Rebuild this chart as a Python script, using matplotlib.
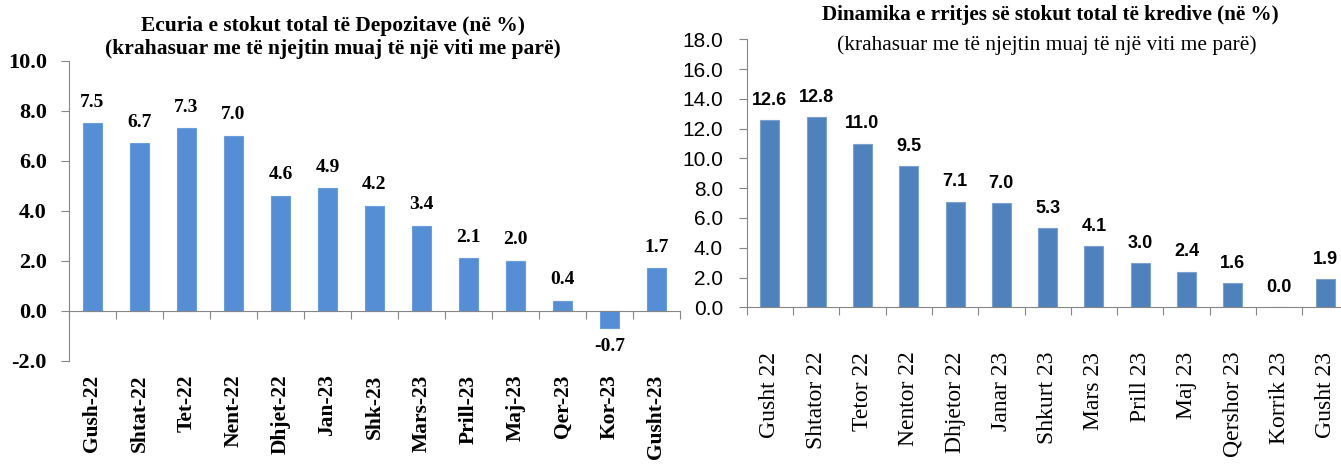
import matplotlib.pyplot as plt
import matplotlib.transforms as mtransforms

# deposit stock growth, y/y %
dep_months = ['Gush-22', 'Shtat-22', 'Tet-22', 'Nent-22', 'Dhjet-22', 'Jan-23', 'Shk-23',
              'Mars-23', 'Prill-23', 'Maj-23', 'Qer-23', 'Kor-23', 'Gusht-23']
dep_values = [7.5, 6.7, 7.3, 7.0, 4.6, 4.9, 4.2, 3.4, 2.1, 2.0, 0.4, -0.7, 1.7]
dep_yticks = [-2, 0, 2, 4, 6, 8, 10]

# credit stock growth, y/y %
cred_months = ['Gusht 22', 'Shtator 22', 'Tetor 22', 'Nentor 22', 'Dhjetor 22', 'Janar 23',
               'Shkurt 23', 'Mars 23', 'Prill 23', 'Maj 23', 'Qershor 23', 'Korrik 23', 'Gusht 23']
cred_values = [12.6, 12.8, 11.0, 9.5, 7.1, 7.0, 5.3, 4.1, 3.0, 2.4, 1.6, 0.0, 1.9]
cred_yticks = [0, 2, 4, 6, 8, 10, 12, 14, 16, 18]

W, H = 1341, 466
fig = plt.figure(figsize=(W / 100, H / 100), dpi=100)

def px_axes(x0, x1, y_top, y_bot):
    return fig.add_axes([x0 / W, (H - y_bot) / H, (x1 - x0) / W, (y_bot - y_top) / H])

SERIF = ['Liberation Serif', 'DejaVu Serif']
NARROW = ['Liberation Sans Narrow', 'Liberation Sans', 'DejaVu Sans']
GRAY = '#868686'

# ---- left: deposits ----
ax1 = px_axes(69, 680, 61, 360.7)
n = len(dep_values)
x = list(range(n))
ax1.bar(x, dep_values, width=0.39, color='#558ED5', edgecolor='#6A9EDC', linewidth=0.8, zorder=2)
ax1.set_xlim(-0.5, n - 0.5)
ax1.set_ylim(-2, 10)
ax1.set_yticks(dep_yticks)
ax1.set_yticklabels([f'{v:.1f}' for v in dep_yticks], fontfamily=SERIF, fontweight='bold', fontsize=16)
for s in ['top', 'right']:
    ax1.spines[s].set_visible(False)
ax1.spines['left'].set_color(GRAY)
ax1.spines['bottom'].set_position(('data', 0))
ax1.spines['bottom'].set_color(GRAY)
ax1.set_xticks([i - 0.5 for i in range(n + 1)])
ax1.tick_params(axis='x', direction='out', length=6, color=GRAY, labelbottom=False)
ax1.tick_params(axis='y', direction='out', length=6, color=GRAY, pad=10)

lab_tr = mtransforms.blended_transform_factory(ax1.transData, ax1.transAxes)
for i, m in enumerate(dep_months):
    ax1.annotate(m, xy=(i, 0), xycoords=lab_tr, xytext=(0, -10), textcoords='offset points',
                 rotation=90, ha='center', va='top', fontfamily=SERIF, fontweight='bold', fontsize=15.5)

for i, v in enumerate(dep_values):
    off = 9 if v >= 0 else -7
    ax1.annotate(f'{v:.1f}', xy=(i, v), xytext=(0, off), textcoords='offset points',
                 ha='center', va='bottom' if v >= 0 else 'top',
                 fontfamily=SERIF, fontweight='bold', fontsize=14)

fig.text(333 / W, 1 - 25.5 / H, 'Ecuria e stokut total të Depozitave (në %)', ha='center', va='center',
         fontfamily=SERIF, fontweight='bold', fontsize=15.5)
fig.text(333 / W, 1 - 49 / H, '(krahasuar me të njejtin muaj të një viti me parë)', ha='center', va='center',
         fontfamily=SERIF, fontweight='bold', fontsize=15.5)

# ---- right: credit ----
ax2 = px_axes(746.7, 1348.6, 39.3, 307.3)
n2 = len(cred_values)
x2 = list(range(n2))
ax2.bar(x2, cred_values, width=0.41, color='#4F81BD', edgecolor='#7DA1CF', linewidth=0.8, zorder=2)
ax2.set_xlim(-0.5, n2 - 0.5)
ax2.set_ylim(0, 18)
ax2.set_yticks(cred_yticks)
ax2.set_yticklabels([f'{v:.1f}' for v in cred_yticks], fontfamily=NARROW, fontsize=15)
for s in ['top', 'right']:
    ax2.spines[s].set_visible(False)
ax2.spines['left'].set_color(GRAY)
ax2.spines['bottom'].set_color(GRAY)
ax2.set_xticks([i - 0.5 for i in range(n2 + 1)])
ax2.set_xticks(x2, minor=True)
ax2.set_xticklabels(cred_months, minor=True, rotation=90, fontfamily=SERIF, fontsize=17, va='top')
ax2.tick_params(axis='x', which='major', direction='out', length=6, color=GRAY, labelbottom=False)
ax2.tick_params(axis='x', which='minor', length=0, pad=32)
ax2.tick_params(axis='y', direction='out', length=6, color=GRAY, pad=11)

for i, v in enumerate(cred_values):
    ax2.annotate(f'{v:.1f}', xy=(i, v), xytext=(0, 8), textcoords='offset points',
                 ha='center', va='bottom', fontfamily=NARROW, fontweight='bold', fontsize=13)

fig.text(1050 / W, 1 - 15 / H, 'Dinamika e rritjes së stokut total të kredive (në %)', ha='center', va='center',
         fontfamily=SERIF, fontweight='bold', fontsize=15.2)
fig.text(1047 / W, 1 - 45 / H, '(krahasuar me të njejtin muaj të një viti me parë)', ha='center', va='center',
         fontfamily=SERIF, fontsize=15.4)

fig.savefig('out.png', dpi=100)
